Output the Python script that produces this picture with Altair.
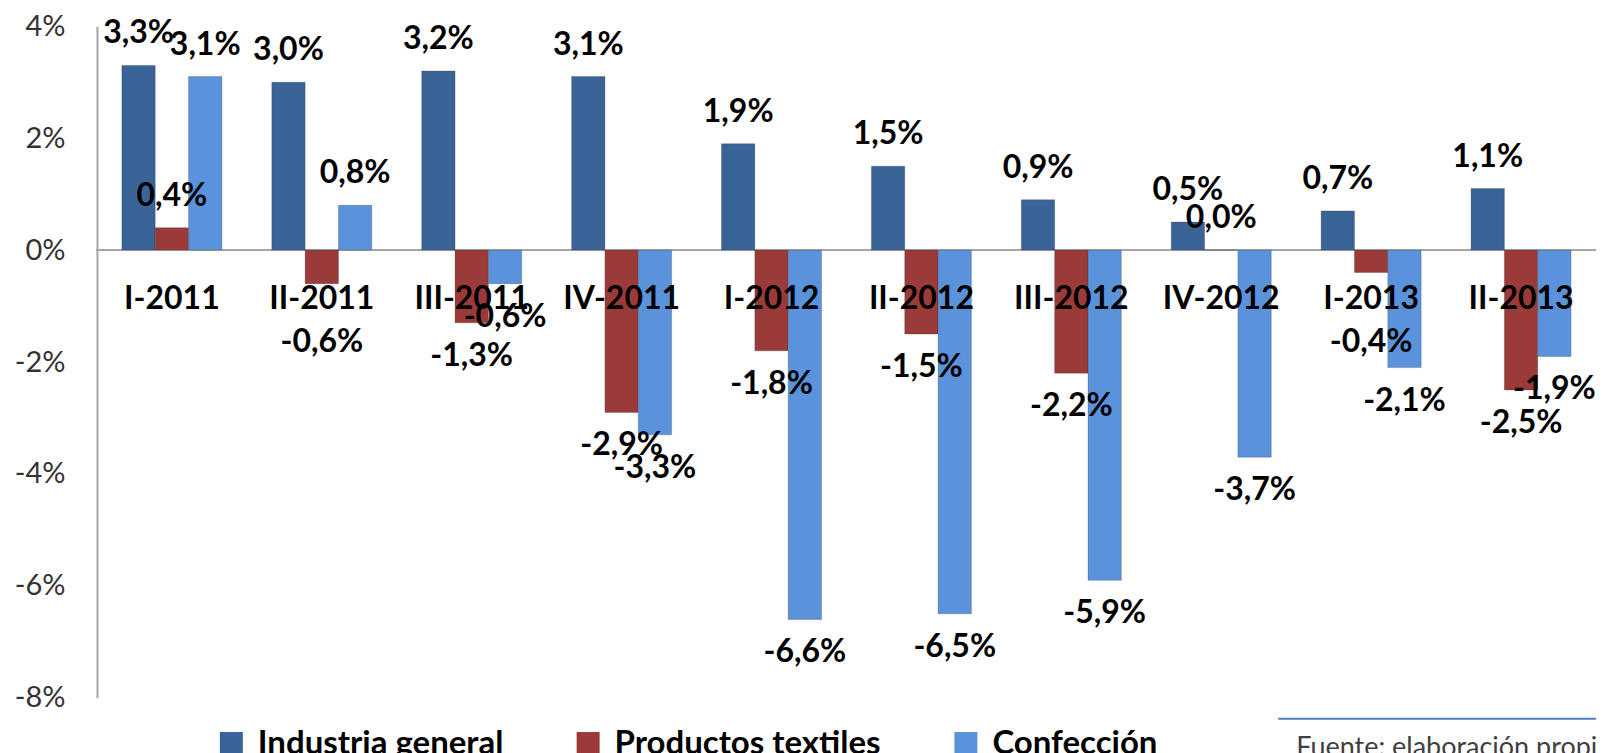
import altair as alt
import pandas as pd

quarters = ["I-2011", "II-2011", "III-2011", "IV-2011", "I-2012",
            "II-2012", "III-2012", "IV-2012", "I-2013", "II-2013"]
series = ["Industria general", "Productos textiles", "Confección"]
industria = [3.3, 3.0, 3.2, 3.1, 1.9, 1.5, 0.9, 0.5, 0.7, 1.1]
textiles = [0.4, -0.6, -1.3, -2.9, -1.8, -1.5, -2.2, 0.0, -0.4, -2.5]
confeccion = [3.1, 0.8, -0.6, -3.3, -6.6, -6.5, -5.9, -3.7, -2.1, -1.9]
colors = ["#3A6497", "#9B3B39", "#5A93DB"]
y_ticks = [-8, -6, -4, -2, 0, 2, 4]
source_text = "Fuente: elaboración propia"

rows = []
for s, vals in zip(series, [industria, textiles, confeccion]):
    for q, v in zip(quarters, vals):
        rows.append({"quarter": q, "series": s, "value": v})
df = pd.DataFrame(rows)

FONT = "Lato"

x_scale = alt.Scale(paddingInner=0.333, paddingOuter=0.1665)
y_scale = alt.Scale(domain=[-8, 4], nice=False)
y_axis = alt.Axis(values=y_ticks, labelExpr="datum.value + '%'",
                  title=None, grid=False, ticks=False,
                  domainColor="#A6A6A6", domainWidth=2,
                  labelFont=FONT, labelFontSize=29,
                  labelColor="#333333", labelPadding=32)


def xe():
    return alt.X("quarter:N", sort=quarters, axis=None, scale=x_scale)


def ye(field="value"):
    return alt.Y(f"{field}:Q", scale=y_scale, axis=y_axis)


def xoe():
    return alt.XOffset("series:N", sort=series,
                       scale=alt.Scale(paddingInner=0, paddingOuter=0))


# label placement: just beyond the bar end; the centre bar's negative labels
# are kept clear of the category label that sits right above them
base = alt.Chart(df).transform_calculate(
    label="(datum.value < 0 ? '-' : '') + replace(format(abs(datum.value), '.1f'), '.', ',') + '%'",
    zero="0",
    ly=("datum.value >= 0 ? datum.value + 0.57 : "
        "(datum.series == '" + series[1] + "' ? min(datum.value - 0.59, -1.64) : datum.value - 0.59)")
)

zero = base.mark_rule(color="#A6A6A6", strokeWidth=2).encode(y=ye("zero"))

bars = base.mark_bar(stroke="#2a2a2a", strokeOpacity=0.25, strokeWidth=1).encode(
    x=xe(), xOffset=xoe(), y=ye(),
    color=alt.Color("series:N", sort=series,
                    scale=alt.Scale(domain=series, range=colors),
                    legend=alt.Legend(orient="none", legendX=118, legendY=701,
                                      direction="horizontal", title=None,
                                      symbolType="square", symbolSize=529,
                                      symbolStrokeWidth=0,
                                      labelFont=FONT, labelFontSize=33,
                                      labelFontWeight="bold", labelColor="#000000",
                                      labelOffset=10, columnPadding=68,
                                      labelLimit=500))
)

cat_labels = base.transform_filter(
    alt.datum.series == series[0]
).mark_text(
    dy=49, baseline="middle", align="center", font=FONT, fontSize=32,
    fontWeight="bold", color="#000000"
).encode(x=xe(), y=ye("zero"), text="quarter:N")

val_labels = base.mark_text(
    baseline="middle", align="center", font=FONT, fontSize=32,
    fontWeight="bold", color="#000000"
).encode(x=xe(), xOffset=xoe(), y=ye("ly"), text="label:N")

src = alt.Chart(pd.DataFrame({"t": [source_text]}))
src_line = src.mark_rule(color="#4F81BD", strokeWidth=2).encode(
    x=alt.value(1182), x2=alt.value(1530), y=alt.value(693))
src_text = src.mark_text(
    align="left", baseline="top", font=FONT, fontSize=27, color="#404040"
).encode(x=alt.value(1200), y=alt.value(709), text="t:N")

chart = alt.layer(zero, bars, cat_labels, val_labels, src_line, src_text).properties(
    width=1500, height=672,
    autosize=alt.AutoSizeParams(type="none"),
    padding={"left": 89, "top": 18, "right": 0, "bottom": 55},
    background="white",
).configure_view(stroke=None)

chart.save("out.html", embed_options={"renderer": "svg", "actions": False})
